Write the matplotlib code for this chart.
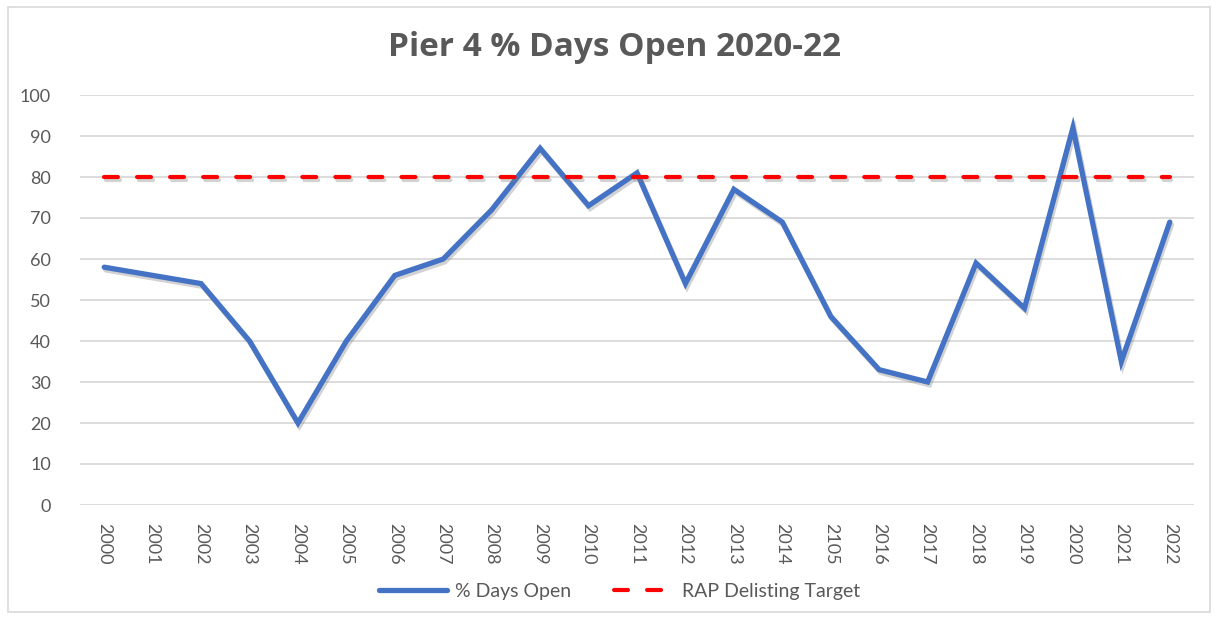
import matplotlib
matplotlib.use("Agg")
import matplotlib.pyplot as plt
import matplotlib.patheffects as pe
from matplotlib.patches import Rectangle
from matplotlib.lines import Line2D

years = ["2000", "2001", "2002", "2003", "2004", "2005", "2006", "2007", "2008",
         "2009", "2010", "2011", "2012", "2013", "2014", "2105", "2016", "2017",
         "2018", "2019", "2020", "2021", "2022"]
days_open = [58, 56, 54, 40, 20, 40, 56, 60, 72, 87, 73, 81, 54, 77, 69, 46,
             33, 30, 59, 48, 92, 35, 69]
target = [80] * len(years)
yticks = list(range(0, 101, 10))

plt.rcParams['font.family'] = ['Lato', 'DejaVu Sans']
plt.rcParams['lines.scale_dashes'] = False

fig = plt.figure(figsize=(12.15, 6.2), dpi=100)
fig.patch.set_facecolor('white')
# outer chart border
fig.patches.append(Rectangle((8 / 1215, 1 - 612 / 620), 1202 / 1215, 605 / 620,
                             transform=fig.transFigure, fill=False,
                             edgecolor='#d9d9d9', linewidth=1.2))

ax = fig.add_axes([80 / 1215, 1 - 505 / 620, 1114 / 1215, 410 / 620])
x = list(range(len(years)))

shadow = [pe.SimpleLineShadow(offset=(1.2, -2.0), shadow_color='#7f7f7f', alpha=0.35),
          pe.Normal()]
ax.plot(x, days_open, color='#4472C4', linewidth=3.8, solid_joinstyle='miter',
        solid_capstyle='round', label='% Days Open', path_effects=shadow, zorder=3)
ax.plot(x, target, color='#FF0000', linewidth=3.0, dashes=(10, 13.8),
        dash_capstyle='round', label='RAP Delisting Target',
        path_effects=shadow, zorder=4)

ax.set_xlim(-0.5, len(years) - 0.5)
ax.set_ylim(0, 100)
ax.set_yticks(yticks)
ax.set_yticklabels([str(v) for v in yticks])
ax.set_xticks(x)
ax.set_xticklabels(years, rotation=-90)
ax.tick_params(axis='both', length=0, labelsize=13, labelcolor='#595959')
ax.tick_params(axis='y', pad=21)
ax.tick_params(axis='x', pad=13)
for lbl in ax.get_xticklabels():
    lbl.set_va('top')
ax.grid(axis='y', color='#d9d9d9', linewidth=1.3)
ax.set_axisbelow(True)
for s in ax.spines.values():
    s.set_visible(False)

fig.text(0.506, 1 - 47 / 620, 'Pier 4 % Days Open 2020-22', ha='center', va='center',
         fontsize=24, fontweight='bold', color='#595959',
         family=['Open Sans', 'DejaVu Sans'])

h_blue = Line2D([], [], color='#4472C4', linewidth=3.8, solid_capstyle='round')
h_red = Line2D([], [], color='#FF0000', linewidth=3.0, linestyle=(18, (10, 13.8)),
               dash_capstyle='round')
leg = fig.legend([h_blue, h_red], ['% Days Open', 'RAP Delisting Target'],
                 loc='center', bbox_to_anchor=(0.510, 1 - 591 / 620), ncol=2,
                 frameon=False, fontsize=14, handlelength=3.5, columnspacing=1.8,
                 handletextpad=0.4)
for t in leg.get_texts():
    t.set_color('#595959')

fig.savefig('out.png', dpi=100, facecolor='white')
